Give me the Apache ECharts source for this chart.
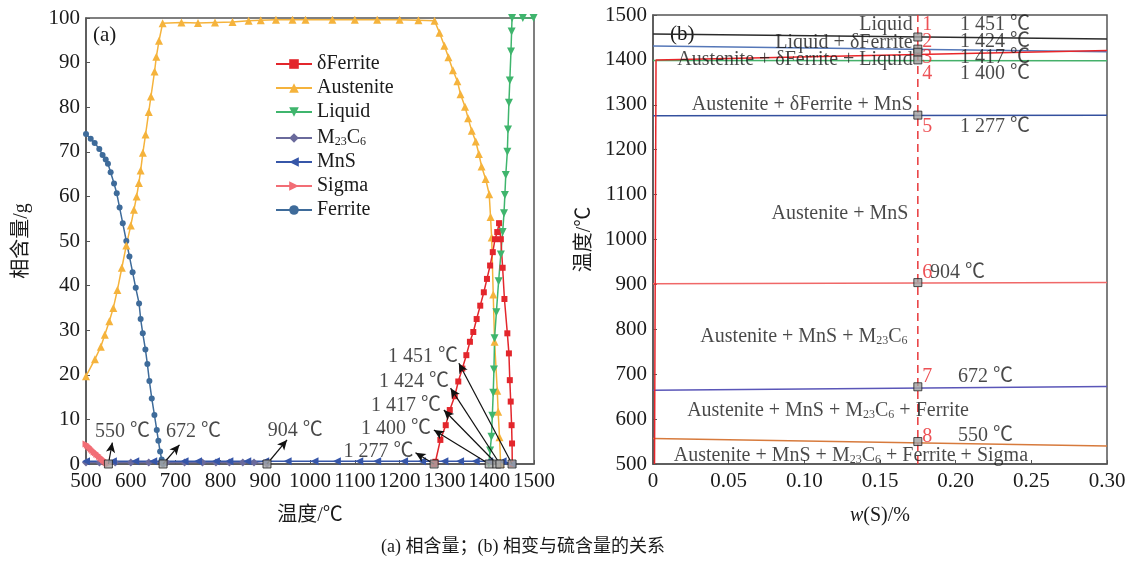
<!DOCTYPE html>
<html><head><meta charset="utf-8">
<script src="https://cdn.jsdelivr.net/npm/echarts@6/dist/echarts.min.js"></script>
<style>html,body{margin:0;padding:0;background:#fff}#c{width:1129px;height:564px}</style>
</head><body><div id="c"></div>
<script>
// ---------- DATA (a) phase amount vs temperature ----------
const xTicksA = [500,600,700,800,900,1000,1100,1200,1300,1400,1500];
const yTicksA = [0,10,20,30,40,50,60,70,80,90,100];
const seriesNames = ['δFerrite','Austenite','Liquid','M23C6','MnS','Sigma','Ferrite'];
const deltaFerrite = [[1277,0],[1280,0.5],[1291,5.4],[1303,8.7],[1312,12.1],[1323,15.2],[1331,18.5],[1340,21.4],[1349,24.4],[1357,27.4],[1364.5,29.6],[1372,32.5],[1380,35.5],[1388,38.5],[1395,41.5],[1402,44.5],[1408,47.5],[1413,50.4],[1418,52],[1422,54],[1426,50.4],[1430,44],[1434,37],[1440.5,29.3],[1444,24.8],[1446,18.8],[1448,14],[1450,8.7],[1451,4.6],[1451.5,0]];
const austenite = [[500,19.7],[520,23.5],[533,26.3],[542,29],[552,32],[561,35],[570,39],[580,44],[590,49],[600,53.5],[607,57],[613,60],[618,63],[622,65.8],[627,69.8],[633,73.9],[640,78.9],[645,82.4],[653,88],[657,91.3],[663,94.9],[671,98.8],[713,99],[750,98.9],[788,99],[827,99.1],[863,99.4],[890,99.5],[924,99.6],[961,99.6],[990,99.6],[1050,99.6],[1100,99.6],[1150,99.6],[1200,99.6],[1242,99.5],[1278,99.4],[1289,96.7],[1300,93.8],[1309,91.2],[1319,88.3],[1329,85.8],[1336,82.9],[1346,80.1],[1353,77.5],[1361,74.7],[1370,72.3],[1377,69.5],[1383,66.7],[1392,63.9],[1400,60.5],[1403,55.4],[1405.5,50.8],[1409,38],[1412,27.4],[1418,16.4],[1420,11.7],[1423,6],[1425.6,0]];
const liquid = [[1399,0],[1402,3],[1405,6.1],[1407,10.8],[1409,16],[1410.6,21.2],[1412,28.2],[1416,34],[1421,41],[1426,47],[1430,52],[1433,56.2],[1435,60.3],[1437,64.8],[1440.5,70],[1442,75],[1444,81],[1446,86],[1448.6,92.5],[1450,97],[1451,100],[1475,100],[1499,100]];
const m23c6 = [[500,0.35],[530,0.35],[565,0.35],[600,0.35],[640,0.35],[680,0.35],[720,0.35],[760,0.35],[790,0.35],[820,0.35],[850,0.35],[875,0.35],[904,0]];
const mns = [[500,0.6],[560,0.6],[610,0.6],[650,0.6],[720,0.6],[750,0.6],[790,0.6],[820,0.6],[860,0.6],[900,0.6],[950,0.6],[1010,0.6],[1060,0.6],[1110,0.6],[1150,0.6],[1210,0.6],[1250,0.6],[1300,0.6],[1335,0.6],[1370,0.6],[1400,0.6],[1430,0.6],[1451,0]];
const sigma = [[500,4.5],[503,4.2],[506,3.9],[509,3.6],[512,3.3],[515,3.0],[518,2.7],[521,2.5],[524,2.2],[527,2.0],[530,1.7],[533,1.4],[536,1.1],[539,0.9],[542,0.6],[545,0.3],[548,0.1],[550,0]];
const ferrite = [[500,74],[510.5,72.9],[519.4,72],[529.7,70.6],[537,69.3],[544,68.3],[549,67.3],[555,65.4],[562.6,62.9],[568.6,60.7],[575,57.5],[582,54],[590,50],[597,46.5],[604,43],[611,39.5],[618.5,36],[622,32.5],[626.7,29.3],[632.6,25.7],[637,22.4],[641.5,18.6],[646.8,14.7],[652.7,11],[658,7.6],[661.6,5.2],[665.4,2.8],[669,1],[672,0]];
const transTempsA = [550,672,904,1277,1400,1417,1424,1451];
const transLabelsA = ['550 ℃','672 ℃','904 ℃','1 277 ℃','1 400 ℃','1 417 ℃','1 424 ℃','1 451 ℃'];

// ---------- DATA (b) transitions vs sulfur content ----------
const xTicksB = [0,0.05,0.10,0.15,0.20,0.25,0.30];
const yTicksB = [500,600,700,800,900,1000,1100,1200,1300,1400,1500];
const lineLiquidus = [[0,1457.7],[0.3,1446.5]];
const lineLiqDelta = [[0,1431],[0.3,1418]];
const lineDelta = [[0.001,500],[0.002,1400],[0.3,1421]];
const lineAust = [[0,1398.5],[0.3,1398]];
const lineMnS = [[0,1275.5],[0.3,1276.5]];
const line904 = [[0,901.5],[0.3,904.5]];
const line672 = [[0,664.5],[0.3,672.5]];
const line550 = [[0,557],[0.3,540]];
const sulfurRef = 0.175;
const transTempsB = [1451,1424,1417,1400,1277,904,672,550];
const transLabelsB = ['1 451 ℃','1 424 ℃','1 417 ℃','1 400 ℃','1 277 ℃','904 ℃','672 ℃','550 ℃'];
const stepNumbers = ['1','2','3','4','5','6','7','8'];
const phaseLabelsB = ['Liquid','Liquid + δFerrite','Austenite + δFerrite + Liquid','Austenite + δFerrite + MnS','Austenite + MnS','Austenite + MnS + M{s|23}C{s|6}','Austenite + MnS + M{s|23}C{s|6} + Ferrite','Austenite + MnS + M{s|23}C{s|6} + Ferrite + Sigma'];

// ---------- LAYOUT / STYLE ----------
const FONT = "'Liberation Serif','Noto Sans CJK SC',serif";
const TXT = '#1a1a1a';
const annotLayoutA = [ // [label x, label y, arrow tip x, arrow tip y] in data units
  [581.6,7.3,558.8,4.8],[740,7.3,708.6,4.3],[967,7.5,948.7,5.4],[1152.8,2.8,1235.5,2.5],
  [1192,7.9,1276.5,7.6],[1214.3,13,1298.8,12.1],[1232,18.45,1313.8,17],[1252.3,24.1,1332.3,22.6]];
const numLayoutB = [[0.178,1477.7],[0.178,1440],[0.178,1404],[0.178,1368.6],[0.178,1250.5],[0.178,925.4],[0.178,693.8],[0.178,561]];
const tempLayoutB = [[0.2029,1477.7],[0.2029,1440],[0.2029,1404],[0.2029,1368.6],[0.2029,1252],[0.183,925.4],[0.2015,694.5],[0.2015,562]];
const phaseLayoutB = [[0.1716,1477.7,'right'],[0.1716,1438.3,'right'],[0.1716,1401.3,'right'],[0.1716,1299.6,'right'],[0.1236,1056.8,'center'],[0.0998,782.8,'center'],[0.1157,618,'center'],[0.1308,517.8,'center']];

const colors = {
  'δFerrite':'#e3262c','Austenite':'#f5b33c','Liquid':'#3fb56d','M23C6':'#6a6a9c',
  'MnS':'#3656a8','Sigma':'#f26d75','Ferrite':'#3e6b9a'
};
const symbols = {
  'δFerrite':['rect',6,0],'Austenite':['triangle',8,0],'Liquid':['triangle',8,180],'M23C6':['diamond',8,0],
  'MnS':['triangle',8,90],'Sigma':['triangle',7,-90],'Ferrite':['circle',6,0]
};
const dataA = {'δFerrite':deltaFerrite,'Austenite':austenite,'Liquid':liquid,'M23C6':m23c6,'MnS':mns,'Sigma':sigma,'Ferrite':ferrite};
const drawOrder = ['M23C6','Sigma','Ferrite','Austenite','Liquid','δFerrite','MnS'];

const chart = echarts.init(document.getElementById('c'), null, {renderer:'canvas'});

const axisCommon = {
  axisLine:{show:true, lineStyle:{color:'#555', width:1.5}},
  axisTick:{show:true, inside:true, length:4, lineStyle:{color:'#555'}},
  splitLine:{show:false},
  axisLabel:{fontFamily:FONT, fontSize:21, color:TXT, hideOverlap:false, showMaxLabel:true, showMinLabel:true, formatter:v=>String(v)},
  nameTextStyle:{fontFamily:FONT, fontSize:20, color:TXT}
};
const lbl = (extra) => Object.assign({show:true, position:[0,0], verticalAlign:'middle', fontFamily:FONT, fontSize:20, color:TXT, textBorderWidth:0}, extra);

const series = [];
drawOrder.forEach(n => {
  series.push({
    name:n, type:'line', xAxisIndex:0, yAxisIndex:0, data:dataA[n],
    symbol:symbols[n][0], symbolSize:symbols[n][1], symbolRotate:symbols[n][2], showAllSymbol:true,
    lineStyle:{color:colors[n], width:1.5}, itemStyle:{color:colors[n]}, z:3
  });
});
// transition markers + arrows (a)
series.push({
  type:'scatter', xAxisIndex:0, yAxisIndex:0, silent:true, z:5,
  data: transTempsA.map(t=>[t,0]), symbol:'rect', symbolSize:8,
  itemStyle:{color:'#a8a8a8', borderColor:'#222', borderWidth:1},
  markLine:{silent:true, symbol:['none','arrow'], symbolSize:[7,10], animation:false,
    lineStyle:{color:'#111', width:1.2, type:'solid'}, label:{show:false},
    data: transTempsA.map((t,i)=>[{coord:[t,0]},{coord:[annotLayoutA[i][2],annotLayoutA[i][3]]}])}
});
series.push({
  type:'scatter', xAxisIndex:0, yAxisIndex:0, silent:true, symbolSize:0.1, itemStyle:{color:'transparent'}, z:6,
  data: transLabelsA.map((s,i)=>({value:[annotLayoutA[i][0],annotLayoutA[i][1]], label:lbl({formatter:s, align:'center'})}))
});

// (b)
const bLines = [[lineLiquidus,'#2b2b2b'],[lineLiqDelta,'#5577b8'],[lineAust,'#45b06a'],[lineMnS,'#34509e'],[line904,'#f06868'],[line672,'#5a56b8'],[line550,'#d77a3c'],[lineDelta,'#e8262a']];
bLines.forEach(([d,c])=>{
  series.push({type:'line', xAxisIndex:1, yAxisIndex:1, data:d, symbol:'none', lineStyle:{color:c, width:1.5}, z:3, silent:true});
});
// dashed reference line at w(S)=sulfurRef
series.push({type:'line', xAxisIndex:1, yAxisIndex:1, data:[[sulfurRef,yTicksB[0]],[sulfurRef,yTicksB[yTicksB.length-1]]], symbol:'none',
  lineStyle:{color:'#e8373a', width:1.5, type:[8,5]}, z:4, silent:true});
series.push({
  type:'scatter', xAxisIndex:1, yAxisIndex:1, silent:true, z:6,
  data: transTempsB.map(t=>[sulfurRef,t]), symbol:'rect', symbolSize:8,
  itemStyle:{color:'#a0a0a0', borderColor:'#222', borderWidth:1}
});
const richSub = {s:{fontFamily:FONT, fontSize:12, color:TXT, verticalAlign:'bottom', lineHeight:14, padding:[10,0,0,0]}};
series.push({
  type:'scatter', xAxisIndex:1, yAxisIndex:1, silent:true, symbolSize:0.1, itemStyle:{color:'transparent'}, z:7,
  data: [].concat(
    stepNumbers.map((s,i)=>({value:numLayoutB[i], label:lbl({formatter:s, align:'left', color:'#e8262a'})})),
    transLabelsB.map((s,i)=>({value:tempLayoutB[i], label:lbl({formatter:s, align:'left'})})),
    phaseLabelsB.map((s,i)=>({value:[phaseLayoutB[i][0],phaseLayoutB[i][1]], label:lbl({formatter:s, align:phaseLayoutB[i][2], rich:richSub})}))
  )
});

chart.setOption({
  animation:false,
  backgroundColor:'#fff',
  grid:[
    {left:86, top:18, width:448, height:446, show:true, borderColor:'#555', borderWidth:1.5, backgroundColor:'transparent'},
    {left:653, top:15, width:454, height:449, show:true, borderColor:'#555', borderWidth:1.5, backgroundColor:'transparent'}
  ],
  xAxis:[
    Object.assign({}, axisCommon, {gridIndex:0, type:'value', min:xTicksA[0], max:xTicksA[xTicksA.length-1], interval:100, name:'温度/℃', nameLocation:'middle', nameGap:42,
      axisLabel:Object.assign({}, axisCommon.axisLabel, {margin:7})}),
    Object.assign({}, axisCommon, {gridIndex:1, type:'value', min:xTicksB[0], max:xTicksB[xTicksB.length-1], interval:0.05, name:'{i|w}(S)/%', nameLocation:'middle', nameGap:42,
      nameTextStyle:{fontFamily:FONT, fontSize:20, color:TXT, rich:{i:{fontFamily:FONT, fontSize:20, fontStyle:'italic', color:TXT}}},
      axisLabel:Object.assign({}, axisCommon.axisLabel, {margin:7, formatter:v=> v===0?'0':v.toFixed(2)})})
  ],
  yAxis:[
    Object.assign({}, axisCommon, {gridIndex:0, type:'value', min:yTicksA[0], max:yTicksA[yTicksA.length-1], interval:10, name:'相含量/g', nameLocation:'middle', nameGap:54,
      axisLabel:Object.assign({}, axisCommon.axisLabel, {margin:6})}),
    Object.assign({}, axisCommon, {gridIndex:1, type:'value', min:yTicksB[0], max:yTicksB[yTicksB.length-1], interval:100, name:'温度/℃', nameLocation:'middle', nameGap:58,
      axisLabel:Object.assign({}, axisCommon.axisLabel, {margin:6})})
  ],
  legend:{
    data:seriesNames, orient:'vertical', left:270, top:49, itemWidth:36, itemHeight:12, itemGap:4,
    textStyle:{fontFamily:FONT, fontSize:20, color:TXT, lineHeight:20, rich:{s:{fontFamily:FONT, fontSize:12, color:TXT, verticalAlign:'bottom', lineHeight:12, padding:[10,0,0,0]}}},
    formatter: n => n==='M23C6' ? 'M{s|23}C{s|6}' : n,
    selectedMode:false
  },
  graphic:[
    {type:'text', left:93, top:25, style:{text:'(a)', font:"21px 'Liberation Serif'", fill:TXT}},
    {type:'text', left:670, top:24, style:{text:'(b)', font:"21px 'Liberation Serif'", fill:TXT}},
    {type:'text', left:381, top:538, style:{text:'(a) 相含量；(b) 相变与硫含量的关系', font:"18px 'Liberation Serif','Noto Sans CJK SC'", fill:TXT}}
  ],
  series:series
});
</script></body></html>
